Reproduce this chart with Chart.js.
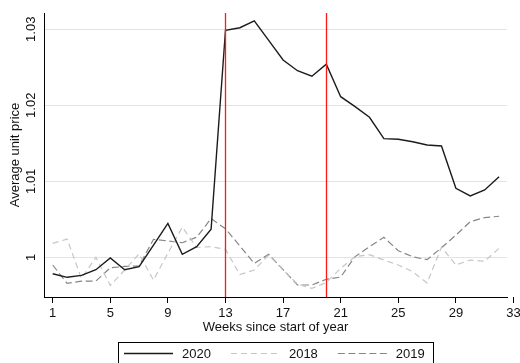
<!DOCTYPE html>
<html>
<head>
<meta charset="utf-8">
<script src="https://cdn.jsdelivr.net/npm/chart.js@4/dist/chart.umd.min.js"></script>
<style>
  html, body { margin: 0; padding: 0; background: #fff; }
  canvas { display: block; }
</style>
</head>
<body>
<canvas id="c" width="520" height="363"></canvas>
<script>
// Weekly average unit price index, by year
const weeks = [1, 2, 3, 4, 5, 6, 7, 8, 9, 10, 11, 12, 13, 14, 15, 16,
               17, 18, 19, 20, 21, 22, 23, 24, 25, 26, 27, 28, 29, 30, 31, 32];

const price2020 = [0.99784, 0.99737, 0.99763, 0.99837, 0.99991, 0.99837, 0.99876, 1.0016,
                   1.00447, 1.0004, 1.0014, 1.0037, 1.02987, 1.0302, 1.0311, 1.02854,
                   1.02596, 1.02455, 1.02382, 1.0254, 1.02113, 1.01982, 1.01842, 1.01561,
                   1.01553, 1.01521, 1.01478, 1.01464, 1.00908, 1.00807, 1.00886, 1.0106];

const price2018 = [1.00184, 1.0024, 0.9972, 1.0000, 0.9963, 0.99833, 1.00045, 0.99701,
                   1.00055, 1.00397, 1.0013, 1.0014, 1.00105, 0.99772, 0.99833, 1.0003,
                   0.99833, 0.99648, 0.99592, 0.99668, 0.99855, 1.0001, 1.00035, 0.99964,
                   0.99899, 0.99811, 0.99662, 1.00135, 0.99899, 0.99964, 0.9995, 1.00118];

const price2019 = [0.99899, 0.99658, 0.99688, 0.99688, 0.99862, 0.9988, 0.99885, 1.00237,
                   1.00215, 1.00192, 1.00265, 1.0051, 1.00375, 1.0015, 0.9992, 1.0004,
                   0.99838, 0.99636, 0.99636, 0.99711, 0.99741, 1.0001, 1.0014, 1.00263,
                   1.00087, 1.00008, 0.99969, 1.00125, 1.00293, 1.00468, 1.00523, 1.0054];

const seriesLabels = ['2020', '2018', '2019'];
const xTicks = [1, 5, 9, 13, 17, 21, 25, 29, 33];
const yTicks = [1, 1.01, 1.02, 1.03];
const eventWeeks = [13, 20];   // vertical reference lines

const FONT_FAMILY = '"Liberation Sans", Arial, Helvetica, sans-serif';
const TEXT = '#111';

const toPoints = vals => weeks.map((w, i) => ({ x: w, y: vals[i] }));

// red vertical markers at the event weeks, plus the tick mark for ticks past the axis end
const markers = {
  id: 'markers',
  afterDatasetsDraw(chart) {
    const { ctx, chartArea, scales } = chart;
    ctx.save();
    ctx.strokeStyle = '#ff1a1a';
    ctx.lineWidth = 1.3;
    eventWeeks.forEach(w => {
      const px = Math.round(scales.x.getPixelForValue(w)) + 0.5;
      ctx.beginPath();
      ctx.moveTo(px, chartArea.top);
      ctx.lineTo(px, chartArea.bottom);
      ctx.stroke();
    });
    ctx.strokeStyle = '#000';
    ctx.lineWidth = 1;
    scales.x.ticks.forEach(t => {
      const px = scales.x.getPixelForValue(t.value);
      if (px > chartArea.right + 0.5) {
        const ax = Math.round(px) + 0.5;
        ctx.beginPath();
        ctx.moveTo(ax, chartArea.bottom);
        ctx.lineTo(ax, chartArea.bottom + 6);
        ctx.stroke();
      }
    });
    ctx.restore();
  }
};

// boxed legend under the axis title
const yearLegend = {
  id: 'yearLegend',
  afterDraw(chart) {
    const ctx = chart.ctx;
    ctx.save();
    ctx.font = '13px ' + FONT_FAMILY;
    ctx.textBaseline = 'middle';
    ctx.textAlign = 'left';
    const boxLeft = 118.5, boxTop = 342.5, rowY = 353.5;
    const lineLen = 49, lineGap = 9, entryGap = 20;
    let x = 124;
    chart.data.datasets.forEach((ds, i) => {
      ctx.strokeStyle = ds.borderColor;
      ctx.lineWidth = ds.borderWidth;
      ctx.setLineDash(ds.borderDash || []);
      ctx.beginPath();
      ctx.moveTo(x, rowY);
      ctx.lineTo(x + lineLen, rowY);
      ctx.stroke();
      ctx.setLineDash([]);
      x += lineLen + lineGap;
      ctx.fillStyle = TEXT;
      ctx.fillText(ds.label, x, rowY + 0.5);
      x += ctx.measureText(ds.label).width;
      if (i < chart.data.datasets.length - 1) x += entryGap;
    });
    const boxRight = Math.round(x + 8) + 0.5;
    ctx.strokeStyle = '#000';
    ctx.lineWidth = 1;
    ctx.strokeRect(boxLeft, boxTop, boxRight - boxLeft, 30);
    ctx.restore();
  }
};

new Chart(document.getElementById('c'), {
  type: 'line',
  data: {
    datasets: [
      { label: seriesLabels[0], data: toPoints(price2020), borderColor: '#1b1b1b', borderWidth: 1.4 },
      { label: seriesLabels[1], data: toPoints(price2018), borderColor: '#c6c6c6', borderWidth: 1.2, borderDash: [6, 4] },
      { label: seriesLabels[2], data: toPoints(price2019), borderColor: '#868686', borderWidth: 1.2, borderDash: [7, 3.5] }
    ]
  },
  options: {
    responsive: false,
    animation: false,
    devicePixelRatio: 1,
    layout: { padding: { top: 13, right: 13, left: 0, bottom: 0 } },
    elements: {
      point: { radius: 0, hoverRadius: 0 },
      line: { tension: 0, fill: false, borderCapStyle: 'butt', borderJoinStyle: 'miter' }
    },
    plugins: {
      legend: { display: false },
      tooltip: { enabled: false }
    },
    scales: {
      x: {
        type: 'linear',
        min: 0.396,
        max: 32.55,
        afterBuildTicks: s => { s.ticks = xTicks.map(v => ({ value: v })); },
        afterFit: s => { s.height = 66; s.paddingLeft = 0; s.paddingRight = 0; },
        ticks: {
          autoSkip: false,
          maxRotation: 0,
          padding: 3,
          color: TEXT,
          font: { family: FONT_FAMILY, size: 13 },
          callback: v => String(v)
        },
        grid: {
          drawOnChartArea: false,
          drawTicks: true,
          tickLength: 6,
          color: '#000'
        },
        border: { display: true, color: '#000', width: 1 },
        title: {
          display: true,
          text: 'Weeks since start of year',
          color: TEXT,
          font: { family: FONT_FAMILY, size: 13 },
          padding: { top: 0, bottom: 28 }
        }
      },
      y: {
        type: 'linear',
        min: 0.99478,
        max: 1.03214,
        afterBuildTicks: s => { s.ticks = yTicks.map(v => ({ value: v })); },
        afterFit: s => { s.width = 44; s.paddingTop = 0; s.paddingBottom = 0; },
        ticks: {
          minRotation: 90,
          maxRotation: 90,
          crossAlign: 'center',
          padding: 0,
          color: TEXT,
          font: { family: FONT_FAMILY, size: 13 },
          callback: v => String(+Number(v).toFixed(2))
        },
        grid: {
          color: '#e3e3e3',
          lineWidth: 1,
          drawTicks: false,
          tickLength: 0
        },
        border: { display: true, color: '#000', width: 1 },
        title: {
          display: true,
          text: 'Average unit price',
          color: TEXT,
          font: { family: FONT_FAMILY, size: 13 },
          padding: { top: 8, bottom: 0 }
        }
      }
    }
  },
  plugins: [markers, yearLegend]
});
</script>
</body>
</html>
